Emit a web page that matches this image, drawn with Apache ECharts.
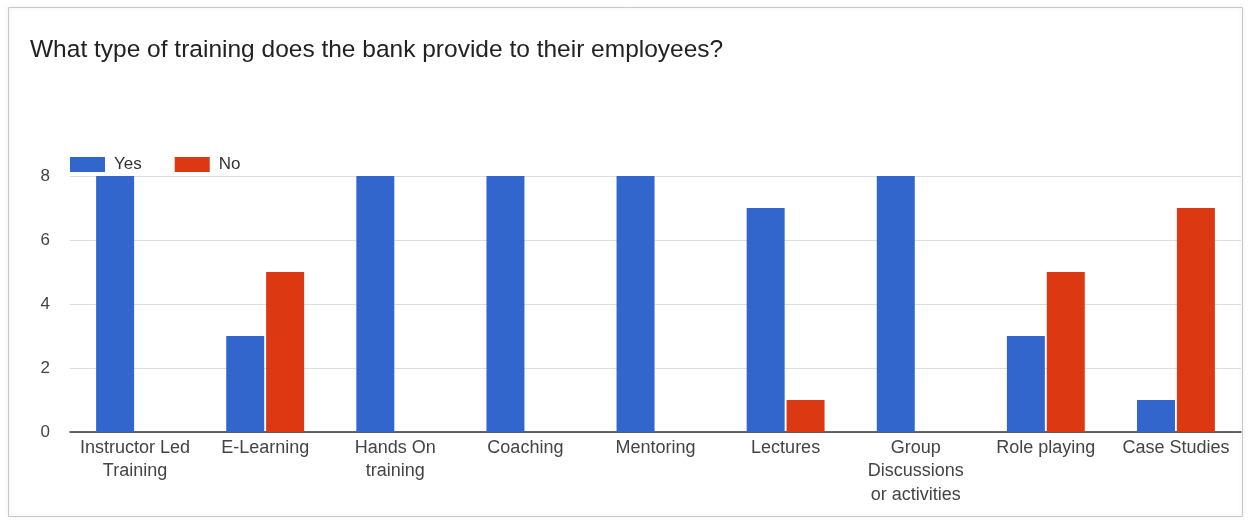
<!DOCTYPE html>
<html><head><meta charset="utf-8">
<script src="https://cdn.jsdelivr.net/npm/echarts@6/dist/echarts.min.js"></script>
<style>html,body{margin:0;padding:0;background:#fff}#c{width:1249px;height:522px}</style>
</head><body><div id="c"></div>
<script>
const titleText = "What type of training does the bank provide to their employees?";
const categories = ["Instructor Led\nTraining","E-Learning","Hands On\ntraining","Coaching","Mentoring","Lectures","Group\nDiscussions\nor activities","Role playing","Case Studies"];
const yesValues = [8,3,8,8,8,7,8,3,1];
const noValues = [0,5,0,0,0,1,0,5,7];
const seriesNames = ["Yes","No"];

const FONT = '"Liberation Sans", Arial, sans-serif';
const chart = echarts.init(document.getElementById('c'), null, {renderer:'canvas'});
chart.setOption({
  animation:false,
  backgroundColor:'#fff',
  textStyle:{fontFamily:FONT},
  graphic:[{type:'rect',shape:{x:8.5,y:7.5,width:1234,height:509},style:{fill:'none',stroke:'#c8c8c8',lineWidth:1,shadowBlur:4,shadowColor:'rgba(0,0,0,0.15)'},z:-1}],
  title:{text:titleText,left:30,top:38,padding:0,textStyle:{fontSize:24.5,fontWeight:'normal',color:'#222',fontFamily:FONT}},
  legend:{left:70,top:156,padding:0,itemWidth:35,itemHeight:15,itemGap:33,icon:'rect',
    textStyle:{fontSize:17,color:'#333',fontFamily:FONT,padding:[0,0,0,4]},data:seriesNames},
  grid:{left:70,right:8,top:176,bottom:90,containLabel:false},
  xAxis:{type:'category',data:categories,
    axisLine:{lineStyle:{color:'#333',width:1.5}},axisTick:{show:false},
    axisLabel:{fontSize:18,color:'#444',lineHeight:23.5,margin:4,interval:0,fontFamily:FONT}},
  yAxis:{type:'value',min:0,max:8,interval:2,
    axisLine:{show:false},axisTick:{show:false},
    splitLine:{lineStyle:{color:'#ddd'}},
    axisLabel:{fontSize:17,color:'#444',margin:20,fontFamily:FONT}},
  series:[
    {name:'Yes',type:'bar',data:yesValues,barWidth:38,barGap:'5%',itemStyle:{color:'#3366cc'}},
    {name:'No',type:'bar',data:noValues,barWidth:38,barGap:'5%',itemStyle:{color:'#dc3912'}}
  ]
});
</script></body></html>
